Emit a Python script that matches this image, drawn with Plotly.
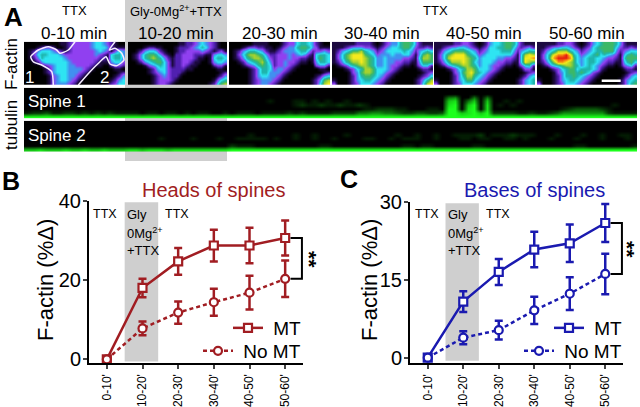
import plotly.graph_objects as go

W, H = 640, 407
categories = ["0-10'", "10-20'", "20-30'", "30-40'", "40-50'", "50-60'"]
heads_mt = [0, 18.0, 24.7, 28.7, 28.7, 30.6]
heads_mt_err = [0, 2.35, 3.4, 4.0, 4.5, 4.4]
heads_nomt = [0, 7.8, 11.8, 14.4, 16.8, 20.3]
heads_nomt_err = [0, 1.75, 2.8, 3.4, 4.25, 4.6]
bases_mt = [0, 10.8, 16.5, 20.8, 22.0, 25.9]
bases_mt_err = [0, 2.0, 2.5, 3.4, 3.6, 3.65]
bases_nomt = [0, 3.85, 5.3, 9.1, 12.3, 16.1]
bases_nomt_err = [0, 1.25, 1.8, 2.6, 3.15, 3.9]
time_labels = ["0-10 min", "10-20 min", "20-30 min", "30-40 min", "40-50 min", "50-60 min"]

actin_1 = ["00000000011233333455432100","00012332001233333455542111","01245554321233333345431354","01356655543333333343215664",
           "01246555554333333332215664","00124555555433333321114553","00001234555443333211002332","00000124555444432100000110",
           "00000124555444321000000012","00000013455443210000000124","00000013455432100000001245","00000013444321000000012355"]
actin_2 = ["00000000000001122345432100","00001221100012223456532100","00124554210012233334321231","01246776421022333222114554",
           "01246787642122333211015665","00124567753122332110014554","00001345653122321100002331","00000124553222211000000110",
           "00000123453222100000000012","00000012343221000000000124","00000012333210000000001356","00000012332100000000012578"]
actin_3 = ["00000011110001233566542100","00012332211012344677643111","01245665421123444566423343","01357887642233343454215665",
           "01246788753233343322115765","00124567864233433211014665","00012346765233432100003442","00000124665344321000000110",
           "00000124664443210000000012","00000124554432100000001245","00000123444321000000012478","00000123443210000000012589"]
actin_4 = ["11111122221012344677642111","11123444332123455677532232","12456778654234555565424565","13578999765344454455314787",
           "13578999876445444433215887","12467889876445443322114777","01235678876445433211013552","00012356887555432100001221",
           "00001347887554321000000123","00001246776543210000001235","10001245665432100000012468","30001235554321000000012589"]
actin_5 = ["11111223321012455677642111","11234455432123556677532342","12456777654234555666424566","13578999765345555555315898",
           "1358999987645555443321599a","12468889875455543322115987","01245678876455433211013562","00012356887555432100001331",
           "00001347897654321000000123","00001246886543210000001245","10001245775432100000012456","30001235554321000000012456"]
actin_6 = ["11111223321012456777642111","11234455432123567777532232","12456888654234566777423455","13579aab965345675654314676",
           "1358abbba75456655433215777","12468aa9875456654322114675","01245678876456543211013452","00012356775666542100001221",
           "00001346776765321000000123","00001246676543210000001245","10001245665432100000012456","30001235554321000000012467"]
actin_panels = [actin_1, actin_2, actin_3, actin_4, actin_5, actin_6]

# tubulin kymographs, 12 groups of 8 columns per row
spine1 = [
 "00000000 00000000 00000000 00000000 00000000 00000000 00000000 00000000 00000000 00000000 00000000 00000000",
 "00000000 00000000 00000000 00000000 00000000 00000000 00000000 00000000 00000000 00000000 00000000 00000000",
 "00000000 00000000 00000000 00000000 00000000 00000000 00000000 00000000 00450040 40000000 00000000 00000000",
 "00000000 00000000 00000000 00000000 00000010 00110101 00100000 00000000 00780470 70010100 00000000 00000000",
 "00000000 00000000 00000000 00000000 00000000 00121121 12112100 00000000 00890790 80101000 00000000 00001000",
 "00000000 00000000 00000000 00000000 00000000 00000000 00000112 22110001 10990890 80000000 00001233 33210000",
 "12231122 12121211 11011011 01011001 01110111 12121111 22224455 44322332 23997897 92222112 11235555 55521111",
 "99999999 99999999 99999999 99999999 99999999 99999999 99999999 99999999 99999999 99999999 99999999 99999999",
]
spine2 = [
 "00000000 00000000 00000000 00000000 00000000 00000000 00000000 00000000 00000000 00000000 00000000 00000000",
 "00000000 00000000 00000000 00000000 00000000 00000000 00000000 00000000 00000000 00000000 00000000 00000000",
 "00000000 00000000 00000000 00000000 00000000 00000000 00000000 00000000 00000000 00000000 00000000 00000000",
 "00000000 00000000 00000000 00000000 00010000 00100100 00100000 00100100 10011112 01112111 00010001 00100110",
 "00000000 10000000 00000100 00100010 01111101 00100100 10000110 01011100 10001101 10011010 00100010 00100010",
 "00000000 00000000 00000000 00000000 00000000 00000000 00000000 00000000 00000000 00000000 00000000 00000000",
 "00000000 00000000 00000000 00000000 21110000 00000011 00000000 00011011 00000011 00000000 00000011 00000001",
 "77877787 78778777 88788878 88888888 99999999 99999999 99999999 99999999 99999999 99999999 99999999 99999999",
]
roi_x = [29.3, 27.7, 17.7, 9.3, 6.7, 14.3, 24.3, 32.7, 36, 44.3, 51, None, 91, 85.3, 91, 97.7, 100, 92.7, 86, 82, 76, 66, 54.3]
roi_y = [43.3, 30, 23.3, 20, 15, 8.3, 5, 8.3, 11.6, 8.3, 0, None, 0, 8.3, 6.6, 11.6, 18.3, 24, 22.3, 15, 20, 30, 43.3]

RED, BLUE = "#a11d22", "#1a1ab0"
GRAY = "#cfcfcf"
FONT = "Liberation Sans"
DASH = "4px,3px"
actin_scale = [[0, "#000000"], [1/11, "#1c0a40"], [2/11, "#5020b0"], [3/11, "#9040f0"], [4/11, "#4090f0"], [5/11, "#2ee4f2"],
               [6/11, "#1fb4ac"], [7/11, "#3cb866"], [8/11, "#a6d22e"], [9/11, "#f4ea1c"], [10/11, "#f89010"], [1, "#e81e10"]]
green_scale = [[0, "#000000"], [1, "#1cff1c"]]


def px(x): return x / W
def py(y): return 1 - y / H


fig = go.Figure()
layout = dict(width=W, height=H, margin=dict(l=0, r=0, t=0, b=0, autoexpand=False), paper_bgcolor="white", plot_bgcolor="rgba(0,0,0,0)",
              font=dict(family=FONT, color="black"), showlegend=True, template="none")
anns, shapes = [], []


def text(x, y, s, size=12, color="black", bold=False, angle=0, xanchor="center"):
    anns.append(dict(x=px(x), y=py(y), xref="paper", yref="paper", text=f"<b>{s}</b>" if bold else s, showarrow=False, align="center",
                     font=dict(size=size, color=color, family=FONT), textangle=angle, xanchor=xanchor, yanchor="middle", borderpad=0))


# Panel A
shapes.append(dict(type="rect", xref="paper", yref="paper", x0=px(125), x1=px(227), y0=py(161), y1=py(0), fillcolor=GRAY, line_width=0, layer="below"))
panel_edges = [(24, 125), (128, 227), (229, 330), (332, 433), (434, 535), (537, 637)]
ax = 1
for panel, (x0, x1) in zip(actin_panels, panel_edges):
    z = [[int(c, 16) for c in row] for row in panel]
    layout[f"xaxis{ax}"] = dict(domain=[px(x0), px(x1)], range=[-0.5, 25.5], visible=False, anchor=f"y{ax}", automargin=False)
    layout[f"yaxis{ax}"] = dict(domain=[py(85), py(41.7)], range=[11.5, -0.5], visible=False, anchor=f"x{ax}", automargin=False)
    fig.add_trace(go.Heatmap(z=z, xaxis=f"x{ax}", yaxis=f"y{ax}", colorscale=actin_scale, zmin=0, zmax=11, zsmooth="best", showscale=False, hoverinfo="skip", showlegend=False))
    ax += 1

# ROI outline on the first panel
layout[f"xaxis{ax}"] = dict(domain=[px(24), px(125)], range=[0, 101], visible=False, anchor=f"y{ax}", automargin=False)
layout[f"yaxis{ax}"] = dict(domain=[py(85), py(41.7)], range=[43.3, 0], visible=False, anchor=f"x{ax}", automargin=False)
fig.add_trace(go.Scatter(x=roi_x, y=roi_y, xaxis=f"x{ax}", yaxis=f"y{ax}", mode="lines", line=dict(color="#f4ecff", width=1.5, shape="spline", smoothing=0.6), hoverinfo="skip", showlegend=False))
ax += 1

for rows, (y0, y1) in zip([spine1, spine2], [(87.7, 118.3), (120.7, 151.7)]):
    z = [[int(c) for c in row.replace(" ", "")] for row in rows]
    layout[f"xaxis{ax}"] = dict(domain=[px(24), px(637)], range=[-0.5, 95.5], visible=False, anchor=f"y{ax}", automargin=False)
    layout[f"yaxis{ax}"] = dict(domain=[py(y1), py(y0)], range=[7.5, -0.5], visible=False, anchor=f"x{ax}", automargin=False)
    fig.add_trace(go.Heatmap(z=z, xaxis=f"x{ax}", yaxis=f"y{ax}", colorscale=green_scale, zmin=0, zmax=9, zsmooth="best", showscale=False, hoverinfo="skip", showlegend=False))
    ax += 1

shapes.append(dict(type="rect", xref="paper", yref="paper", x0=px(601.7), x1=px(620.7), y0=py(82), y1=py(79.5), fillcolor="white", line_width=0))

for lab, cx in zip(time_labels, [74, 176, 280, 382, 484, 587]):
    text(cx, 33, lab, 17)
text(74, 10.5, "TTX", 13)
text(175.5, 10.5, "Gly-0Mg<sup>2+</sup>+TTX", 13)
text(435, 10.5, "TTX", 13)
text(12, 64, "F-actin", 17, angle=-90)
text(12, 125, "tubulin", 17, angle=-90)
text(27, 102, "Spine 1", 17, color="white", xanchor="left")
text(27, 135, "Spine 2", 17, color="white", xanchor="left")
text(35, 77.5, "1", 17, color="white", xanchor="right")
text(104, 77.5, "2", 17, color="white")
text(13, 17, "A", 26, bold=True)
text(11, 181, "B", 25, bold=True)
text(349, 179, "C", 25, bold=True)


def panel(ax, mt, mte, no, noe, color, ymax, ybot, dtick, ytop_px, ybot_px, xl, xr, gray, bracket_mt, bracket_no, legx):
    layout[f"xaxis{ax}"] = dict(domain=[px(xl), px(xr)], type="category", categoryorder="array", categoryarray=categories, range=[-0.5, 5.5], anchor=f"y{ax}",
                                showline=True, linecolor="black", linewidth=2, ticks="outside", ticklen=4, tickwidth=2, tickangle=-90,
                                tickfont=dict(size=12, family=FONT), showgrid=False, zeroline=False, automargin=False)
    layout[f"yaxis{ax}"] = dict(domain=[py(ybot_px), py(ytop_px)], range=[ybot, ymax], dtick=dtick, anchor=f"x{ax}", showline=True, linecolor="black", linewidth=2,
                                ticks="outside", ticklen=4, tickwidth=2, tickfont=dict(size=20, family=FONT), showgrid=False, zeroline=False, automargin=False,
                                ticklabelstandoff=-2)
    shapes.append(dict(type="rect", xref=f"x{ax}", yref=f"y{ax}", x0=gray[0], x1=gray[1], y0=ybot * 0.55, y1=ymax * 0.99, fillcolor=GRAY, line_width=0, layer="below"))
    shapes.append(dict(type="path", xref=f"x{ax}", yref=f"y{ax}", path=f"M5.15,{bracket_mt} L5.47,{bracket_mt} L5.47,{bracket_no} L5.15,{bracket_no}", line=dict(color="black", width=2)))
    for k, (vals, err, name, sym, dash, lx, ly) in enumerate([(mt, mte, "\u00a0MT", "square", "solid", legx[0], 328), (no, noe, "\u00a0No MT", "circle", DASH, legx[1], 351)]):
        lname = f"legend{legx[2] + k}" if legx[2] + k > 1 else "legend"
        fig.add_trace(go.Scatter(x=categories, y=vals, xaxis=f"x{ax}", yaxis=f"y{ax}", mode="lines+markers", name=name, legend=lname,
                                 line=dict(color=color, width=2.5, dash=dash),
                                 marker=dict(symbol=sym, size=8, color="white", line=dict(color=color, width=2.2)),
                                 error_y=dict(type="data", array=err, visible=True, color=color, thickness=2.5, width=4)))
        layout[lname] = dict(x=px(lx), y=py(ly), xanchor="left", yanchor="middle", bgcolor="rgba(0,0,0,0)", borderwidth=0, itemwidth=30,
                             font=dict(size=19, family=FONT), tracegroupgap=0, indentation=0, itemclick=False, itemdoubleclick=False)


panel(ax, heads_mt, heads_mt_err, heads_nomt, heads_nomt_err, RED, 40, -1.0, 20, 200.7, 363.3, 89, 303, (0.5, 1.44), 30.6, 20.3, (228, 198, 1))
ax += 1
panel(ax, bases_mt, bases_mt_err, bases_nomt, bases_nomt_err, BLUE, 30, -1.08, 15, 201.7, 363.3, 410, 623, (0.5, 1.44), 25.9, 16.1, (549, 519, 3))

text(45, 280, "F-actin (%Δ)", 22, angle=-90)
text(369, 280, "F-actin (%Δ)", 22, angle=-90)
text(213, 190, "Heads of spines", 20, color=RED)
text(534, 190, "Bases of spines", 20, color=BLUE)
for off in (0, 321):
    text(105 + off + (1 if off else 0), 214, "TTX", 12.5)
    text(126 + off, 214, "Gly", 13, xanchor="left")
    text(126 + off, 233, "0Mg<sup>2+</sup>", 13, xanchor="left")
    text(125.5 + off, 250.7, "+TTX", 13, xanchor="left")
    text(177 + off, 214, "TTX", 12.5)
text(310, 259, "**", 21, bold=True, angle=90)
text(628, 249, "**", 21, bold=True, angle=90)

layout["annotations"] = anns
layout["shapes"] = shapes
fig.update_layout(**layout)
fig.write_html("out.html", post_script="document.body.style.margin='0';", config={"displayModeBar": False})
